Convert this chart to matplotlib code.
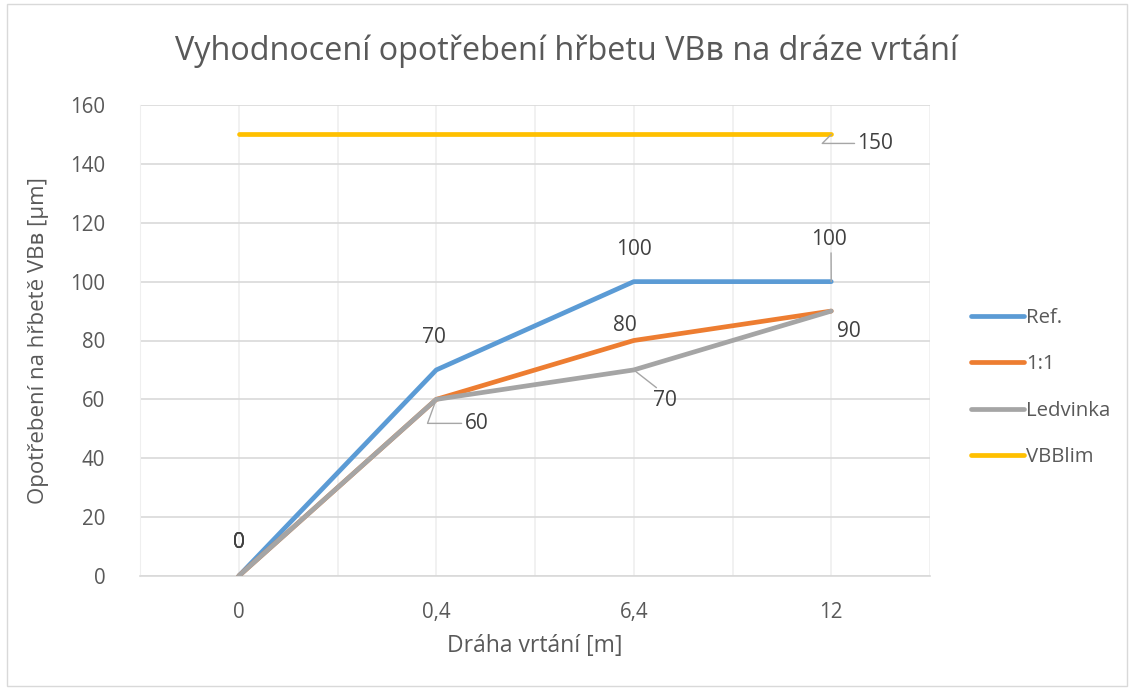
import matplotlib
matplotlib.use("Agg")
import matplotlib.pyplot as plt
from matplotlib.patches import Rectangle

categories = ["0", "0,4", "6,4", "12"]
series_names = ["Ref.", "1:1", "Ledvinka", "VBBlim"]
ref_vals = [0, 70, 100, 100]
one_vals = [0, 60, 80, 90]
led_vals = [0, 60, 70, 90]
lim_vals = [150, 150, 150, 150]
yticks = [0, 20, 40, 60, 80, 100, 120, 140, 160]

colors = ["#5B9BD5", "#ED7D31", "#A5A5A5", "#FFC000"]
FONT = ["Open Sans", "DejaVu Sans"]
TXT = "#404040"
GREY = "#595959"

plt.rcParams["font.family"] = FONT

fig = plt.figure(figsize=(11.34, 6.9), dpi=100)
fig.patches.append(Rectangle((0.006, 0.006), 0.988, 0.988, transform=fig.transFigure,
                             fill=False, edgecolor="#d9d9d9", linewidth=1))
ax = fig.add_axes([140/1134, 1-576/690, 790/1134, (576-105)/690])

x = list(range(len(categories)))
all_vals = [ref_vals, one_vals, led_vals, lim_vals]
for vals, name, c in zip(all_vals, series_names, colors):
    ax.plot(x, vals, color=c, lw=3.4, solid_capstyle="round", solid_joinstyle="round",
            label=name, zorder=3)

ax.set_xlim(-0.5, len(categories) - 0.5)
ax.set_ylim(0, 160)
ax.set_yticks(yticks)
ax.set_xticks(x)
ax.set_xticklabels(categories)
ax.set_xticks([i - 0.5 for i in range(len(categories) + 1)], minor=True)
ax.tick_params(axis="both", which="both", length=0, labelsize=14.8, labelcolor=GREY)
ax.tick_params(axis="x", pad=19)
ax.tick_params(axis="y", pad=25)
ax.grid(axis="y", color="#d9d9d9", lw=1.2, zorder=0)
ax.grid(axis="x", which="both", color="#efefef", lw=1.2, zorder=0)
for s in ["top", "right"]:
    ax.spines[s].set_visible(False)
ax.spines["left"].set_color("#efefef")
ax.spines["bottom"].set_color("#d9d9d9")
ax.spines["bottom"].set_linewidth(1.2)

ax.set_xlabel("Dráha vrtání [m]", fontsize=16.5, color=GREY, labelpad=8)
ax.set_ylabel("Opotřebení na hřbetě VBʙ [µm]", fontsize=16, color=GREY, labelpad=15)
fig.text(0.5, 1-51/690, "Vyhodnocení opotřebení hřbetu VBʙ na dráze vrtání",
         ha="center", va="center", fontsize=23.3, color=GREY)

lab_kw = dict(fontsize=15, color=TXT, ha="center", va="center", zorder=5)
lead = dict(arrowstyle="-", color="#a6a6a6", lw=1, shrinkA=0, shrinkB=0)

# zero labels (overlapping from all three series)
for _ in range(3):
    ax.annotate(str(ref_vals[0]), (x[0], ref_vals[0]), xytext=(0, 33), textcoords="offset pixels", **lab_kw)
# Ref
ax.annotate(str(ref_vals[1]), (x[1], ref_vals[1]), xytext=(-2, 32), textcoords="offset pixels", **lab_kw)
ax.annotate(str(ref_vals[2]), (x[2], ref_vals[2]), xytext=(0, 32), textcoords="offset pixels", **lab_kw)
ax.annotate(str(ref_vals[3]), (x[3], ref_vals[3]), xytext=(-2, 42), textcoords="offset pixels",
            arrowprops=dict(lead, relpos=(0.55, 0)), **lab_kw)
# 1:1
ax.annotate(str(one_vals[2]), (x[2], one_vals[2]), xytext=(-9, 15), textcoords="offset pixels", **lab_kw)
ax.annotate(str(one_vals[3]), (x[3], one_vals[3]), xytext=(18, -20), textcoords="offset pixels", **lab_kw)
# Ledvinka
ax.annotate(str(led_vals[1]), (x[1], led_vals[1]), xytext=(40, -24), textcoords="offset pixels",
            arrowprops=dict(lead, connectionstyle="angle,angleA=0,angleB=70", relpos=(0, 0.5)), **lab_kw)
ax.annotate(str(led_vals[2]), (x[2], led_vals[2]), xytext=(31, -31), textcoords="offset pixels",
            arrowprops=dict(lead, relpos=(0.3, 1.0)), **lab_kw)
# VBBlim
ax.annotate(str(lim_vals[3]), (x[3], lim_vals[3]), xytext=(44, -9), textcoords="offset pixels",
            arrowprops=dict(lead, connectionstyle="angle,angleA=0,angleB=45", relpos=(0, 0.5)), **lab_kw)

leg = ax.legend(loc="center left", bbox_to_anchor=(1.042, 0.40), frameon=False, fontsize=14.7,
                handlelength=2.6, handletextpad=0.1, labelspacing=1.3, borderaxespad=0)
for t in leg.get_texts():
    t.set_color(GREY)

fig.savefig("out.png", dpi=100)
